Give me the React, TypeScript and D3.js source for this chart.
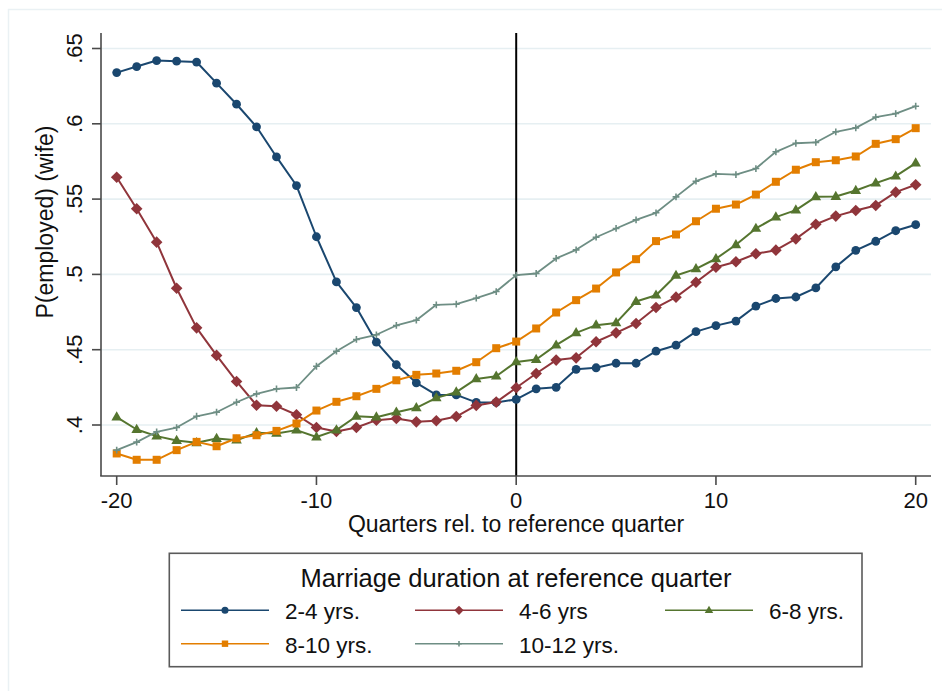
import React from "react";
import * as d3 from "d3";

const quarters = d3.range(-20, 21);
const seriesNames = ["2-4 yrs.", "4-6 yrs", "6-8 yrs.", "8-10 yrs.", "10-12 yrs."];
const seriesColors = ["#1a476f", "#90353b", "#55752f", "#e37e00", "#6e8e84"];
const seriesMarkers = ["circle", "diamond", "triangle", "square", "plus"];

const dur2to4 = [
  0.634, 0.638, 0.642, 0.6416, 0.641, 0.627, 0.613, 0.598, 0.578, 0.559,
  0.525, 0.495, 0.478, 0.455, 0.44, 0.428, 0.42, 0.42, 0.415, 0.415,
  0.417, 0.424, 0.425, 0.437, 0.438, 0.441, 0.441, 0.449, 0.453, 0.462,
  0.466, 0.469, 0.479, 0.484, 0.485, 0.491, 0.505, 0.516, 0.522, 0.529, 0.533,
];
const dur4to6 = [
  0.5645, 0.5436, 0.5214, 0.4908, 0.4645, 0.4462, 0.4289, 0.4131, 0.4125, 0.4068,
  0.3983, 0.3957, 0.3983, 0.4032, 0.4043, 0.4021, 0.4028, 0.4056, 0.413, 0.4152,
  0.4247, 0.4342, 0.4431, 0.4446, 0.4553, 0.4612, 0.4674, 0.478, 0.4849, 0.4948,
  0.5048, 0.5084, 0.5137, 0.5161, 0.5236, 0.5333, 0.5387, 0.5424, 0.5458, 0.5546, 0.5595,
];
const dur6to8 = [
  0.4052, 0.397, 0.3926, 0.3897, 0.3882, 0.391, 0.3899, 0.3948, 0.3944, 0.3966,
  0.392, 0.3966, 0.4058, 0.4052, 0.4085, 0.4114, 0.418, 0.4218, 0.4306, 0.4324,
  0.4419, 0.4435, 0.453, 0.4612, 0.4663, 0.4678, 0.482, 0.4862, 0.4993, 0.5037,
  0.5104, 0.5197, 0.5305, 0.538, 0.5427, 0.5515, 0.5517, 0.5557, 0.5606, 0.5652, 0.5739,
];
const dur8to10 = [
  0.3811, 0.3769, 0.3769, 0.3833, 0.3888, 0.3859, 0.3912, 0.3932, 0.3961, 0.401,
  0.4096, 0.4154, 0.4191, 0.424, 0.4297, 0.4333, 0.4342, 0.436, 0.4417, 0.451,
  0.4554, 0.4641, 0.4747, 0.4829, 0.4906, 0.5013, 0.5101, 0.5221, 0.5265, 0.5353,
  0.5436, 0.5464, 0.553, 0.5615, 0.5695, 0.5745, 0.5758, 0.5783, 0.5867, 0.5898, 0.5971,
];
const dur10to12 = [
  0.3833, 0.3886, 0.3955, 0.3983, 0.4058, 0.4085, 0.4151, 0.4207, 0.424, 0.4249,
  0.439, 0.449, 0.4568, 0.4599, 0.4661, 0.4696, 0.4798, 0.4802, 0.4842, 0.4886,
  0.4995, 0.5006, 0.5106, 0.5163, 0.5247, 0.5305, 0.5362, 0.5409, 0.5515, 0.5619,
  0.5668, 0.5663, 0.5703, 0.5814, 0.5871, 0.5876, 0.5947, 0.5973, 0.6044, 0.6068, 0.6117,
];
const seriesValues = [dur2to4, dur4to6, dur6to8, dur8to10, dur10to12];

const xTicks = [-20, -10, 0, 10, 20];
const yTicks = [0.4, 0.45, 0.5, 0.55, 0.6, 0.65];
const yTickLabels = [".4", ".45", ".5", ".55", ".6", ".65"];
const xTitle = "Quarters rel. to reference quarter";
const yTitle = "P(employed) (wife)";
const legendTitle = "Marriage duration at reference quarter";

const W = 942;
const H = 691;
const plotLeft = 101;
const plotRight = 931;
const plotTop = 33;
const plotBottom = 476;
const FONT = "'Liberation Sans', Arial, Helvetica, sans-serif";
const AXIS = "#4a4a4a";

function Marker({ kind, x, y, color, s = 1 }: { kind: string; x: number; y: number; color: string; s?: number }) {
  if (kind === "circle") return <circle cx={x} cy={y} r={4.4 * s} fill={color} />;
  if (kind === "diamond") {
    const h = 5.8 * s;
    return <path d={`M${x},${y - h}L${x + h},${y}L${x},${y + h}L${x - h},${y}Z`} fill={color} />;
  }
  if (kind === "triangle") {
    const w = 5.3 * s;
    return <path d={`M${x},${y - 5.8 * s}L${x + w},${y + 3.4 * s}L${x - w},${y + 3.4 * s}Z`} fill={color} />;
  }
  if (kind === "square") {
    const h = 4 * s;
    return <rect x={x - h} y={y - h} width={2 * h} height={2 * h} fill={color} />;
  }
  const h = 3.4 * s;
  return (
    <path d={`M${x - h},${y}L${x + h},${y}M${x},${y - h}L${x},${y + h}`} stroke={color} strokeWidth={1.6} fill="none" />
  );
}

export default function App() {
  const x = d3.scaleLinear().domain([-20, 20]).range([116.7, 915.7]);
  const y = d3.scaleLinear().domain([0.4, 0.65]).range([425, 48.5]);
  const line = d3
    .line<number>()
    .x((_, i) => x(quarters[i]))
    .y((d) => y(d));

  const legendCols = [181, 415, 665];
  const legendRows = [610.3, 643.7];
  const legendItems = seriesNames.map((name, i) => ({
    name,
    i,
    col: i % 3,
    row: Math.floor(i / 3),
  }));

  return (
    <svg
      width={W}
      height={H}
      viewBox={`0 0 ${W} ${H}`}
      style={{ position: "absolute", left: 0, top: 0, background: "#fff" }}
      fontFamily={FONT}
    >
      <rect x={0} y={0} width={W} height={H} fill="#fff" />
      <rect x={8.5} y={9.5} width={W + 20} height={H + 20} fill="none" stroke="#eaf1f4" strokeWidth={1.5} />

      {/* gridlines */}
      {yTicks.map((t) => (
        <line key={t} x1={plotLeft} x2={plotRight} y1={y(t)} y2={y(t)} stroke="#e6eff2" strokeWidth={1.6} />
      ))}

      {/* reference line at 0 */}
      <line x1={x(0)} x2={x(0)} y1={plotTop} y2={plotBottom} stroke="#000" strokeWidth={2} />

      {/* series */}
      {seriesValues.map((vals, si) => (
        <g key={si}>
          <path d={line(vals) || ""} fill="none" stroke={seriesColors[si]} strokeWidth={si === 4 ? 1.8 : 2} strokeLinejoin="round" />
          {vals.map((v, i) => (
            <Marker key={i} kind={seriesMarkers[si]} x={x(quarters[i])} y={y(v)} color={seriesColors[si]} />
          ))}
        </g>
      ))}

      {/* axes */}
      <line x1={plotLeft} x2={plotLeft} y1={plotTop} y2={plotBottom} stroke={AXIS} strokeWidth={1.6} />
      <line x1={plotLeft - 0.8} x2={plotRight} y1={plotBottom} y2={plotBottom} stroke={AXIS} strokeWidth={1.6} />
      {yTicks.map((t, i) => (
        <g key={t}>
          <line x1={plotLeft - 9} x2={plotLeft} y1={y(t)} y2={y(t)} stroke={AXIS} strokeWidth={1.6} />
          <text
            transform={`translate(82,${y(t)}) rotate(-90)`}
            textAnchor="middle"
            fontSize={22}
            fill="#111"
          >
            {yTickLabels[i]}
          </text>
        </g>
      ))}
      {xTicks.map((t) => (
        <g key={t}>
          <line x1={x(t)} x2={x(t)} y1={plotBottom} y2={plotBottom + 9} stroke={AXIS} strokeWidth={1.6} />
          <text x={x(t)} y={508.3} textAnchor="middle" fontSize={22} fill="#111">
            {t}
          </text>
        </g>
      ))}
      <text x={(plotLeft + plotRight) / 2} y={532} textAnchor="middle" fontSize={23} fill="#111">
        {xTitle}
      </text>
      <text
        transform={`translate(53,222) rotate(-90)`}
        textAnchor="middle"
        fontSize={23}
        fill="#111"
      >
        {yTitle}
      </text>

      {/* legend */}
      <rect x={169.3} y={553.3} width={692.7} height={113.4} fill="#fff" stroke="#5a5a5a" strokeWidth={1.6} />
      <text x={516} y={586.7} textAnchor="middle" fontSize={25.5} fill="#111">
        {legendTitle}
      </text>
      {legendItems.map(({ name, i, col, row }) => {
        const lx = legendCols[col];
        const ly = legendRows[row];
        return (
          <g key={name}>
            <line x1={lx} x2={lx + 88} y1={ly} y2={ly} stroke={seriesColors[i]} strokeWidth={1.6} />
            <Marker kind={seriesMarkers[i]} x={lx + 44} y={ly} color={seriesColors[i]} s={0.8} />
            <text x={lx + 104} y={ly + 9} fontSize={22.5} fill="#111">
              {name}
            </text>
          </g>
        );
      })}
    </svg>
  );
}
